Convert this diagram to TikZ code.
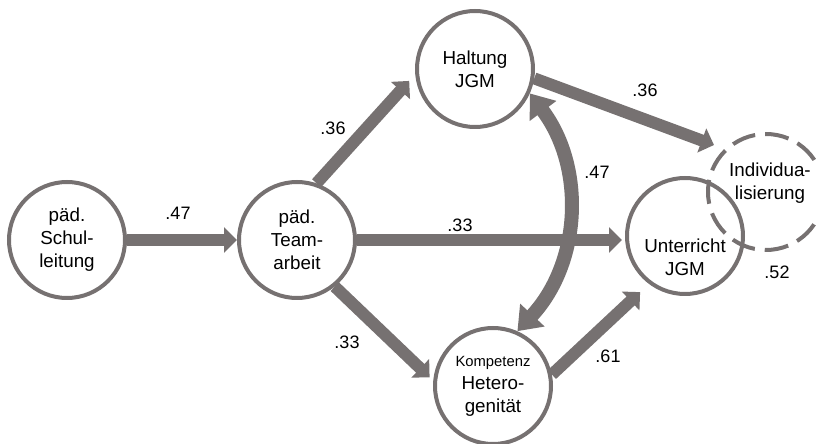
\documentclass[tikz,border=0pt]{standalone}
\usepackage{fontspec}
\setmainfont{Liberation Sans}
\usetikzlibrary{arrows.meta}
\definecolor{pathgray}{RGB}{118,113,113}

\begin{document}
\begin{tikzpicture}[
    x=0.5pt, y=-0.5pt,
    var/.style={circle, draw=pathgray, line width=2pt, minimum size=58pt, inner sep=0pt, align=center, font=\fontsize{9.4}{11.5}\selectfont},
    latent/.style={var, dash pattern=on 12pt off 5pt},
    txt/.style={align=center, inner sep=0pt, font=\fontsize{9.4}{11.5}\selectfont},
    arrow/.style={-{Triangle[length=6.5pt, width=12.5pt]}, draw=pathgray, line width=6pt},
    corr/.style={{Triangle[length=11pt, width=16pt]}-{Triangle[length=11pt, width=16pt]}, draw=pathgray, line width=7pt},
    coef/.style={font=\fontsize{9}{11}\selectfont, inner sep=1pt}
]
\useasboundingbox (0,0) rectangle (816,444);

% variables
\node[var] (schul) at (67,240) {päd.\\Schul-\\leitung};
\node[var] (team) at (297,240) {päd.\\Team-\\arbeit};
\node[var] (haltung) at (475,69) {Haltung\\JGM};
\node[var] (kompetenz) at (493,386) {{\fontsize{7.4}{9}\selectfont Kompetenz}\\Hetero-\\genität};
\node[var] (unterricht) at (685,236) {};
\node[latent] (indiv) at (766,192) {};
\node[txt] (unterricht-txt) at (685,257) {Unterricht\\JGM};
\node[txt] (indiv-txt) at (770,183) {Individua-\\lisierung};

% paths
\draw[arrow] (schul) -- (team);
\draw[arrow, shorten >=4.5pt] (team.71) -- (haltung.185);
\draw[arrow, shorten >=1.5pt] (team.east) -- (team.east -| unterricht.west);
\draw[arrow, shorten >=2.5pt] (team.-51) -- (kompetenz.175);
\draw[arrow, shorten >=5.5pt] (haltung.-9) -- (indiv.134);
\draw[arrow, shorten >=6pt] (kompetenz.11) -- (unterricht.233);
\draw[corr] (haltung.-24) to[bend left=40] (kompetenz.66);

% coefficients
\node[coef] (c1) at (178,213) {.47};
\node[coef] (c2) at (333,128) {.36};
\node[coef] (c3) at (460,225) {.33};
\node[coef] (c4) at (347,342) {.33};
\node[coef] (c5) at (645,90) {.36};
\node[coef] (c6) at (608,356) {.61};
\node[coef] (c7) at (597,172) {.47};
\node[coef] (c8) at (777,272) {.52};
\end{tikzpicture}
\end{document}
